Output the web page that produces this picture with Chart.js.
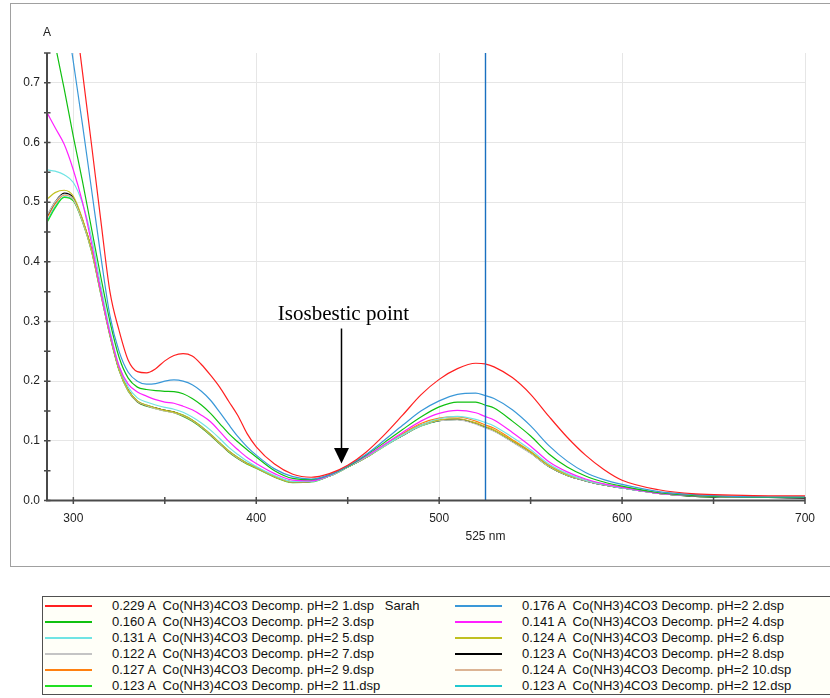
<!DOCTYPE html>
<html>
<head>
<meta charset="utf-8">
<script src="https://cdn.jsdelivr.net/npm/chart.js@4/dist/chart.umd.min.js"></script>
<style>
  html, body { margin: 0; padding: 0; background: #fff; }
  body { width: 830px; height: 698px; overflow: hidden; position: relative; font-family: "Liberation Sans", Arial, sans-serif; }
  #frame { position: absolute; left: 10px; top: 3px; width: 830px; height: 564px; border: 1px solid #a0a0a0; box-sizing: border-box; }
  #spectra { position: absolute; left: 0; top: 0; }
  #legend { position: absolute; left: 42px; top: 596px; width: 820px; height: 99px; border: 1px solid #505050; background: #fffff8; box-sizing: border-box; }
  .swatch { position: absolute; height: 2px; width: 47px; }
  .entry { position: absolute; font-size: 13px; line-height: 16px; white-space: pre; color: #111; }
</style>
</head>
<body>
<div id="frame"></div>
<canvas id="spectra" width="830" height="570"></canvas>
<div id="legend"></div>
<script>
// wavelength grid (nm)
const wavelengths = [286, 290, 295, 300, 305, 310, 315, 320, 325, 330,
  335, 340, 345, 350, 355, 360, 365, 370, 375, 380,
  385, 390, 395, 400, 410, 420, 430, 440, 450, 460,
  470, 480, 490, 500, 510, 520, 525, 530, 540, 550,
  560, 570, 580, 590, 600, 620, 640, 660, 680, 700]

// absorbance of each scan
const scan1 = [1.18, 1.08, 0.96, 0.84, 0.718, 0.595, 0.47, 0.35, 0.285, 0.235,
  0.216, 0.214, 0.221, 0.234, 0.243, 0.246, 0.242, 0.228, 0.21, 0.19,
  0.166, 0.142, 0.112, 0.09, 0.061, 0.044, 0.039, 0.045, 0.059, 0.081,
  0.11, 0.143, 0.177, 0.203, 0.221, 0.23, 0.229, 0.224, 0.206, 0.178,
  0.141, 0.106, 0.076, 0.052, 0.034, 0.018, 0.011, 0.009, 0.008, 0.008]
const scan2 = [1.03, 0.95, 0.84, 0.735, 0.63, 0.52, 0.41, 0.31, 0.25, 0.215,
  0.2, 0.195, 0.196, 0.2, 0.202, 0.2, 0.194, 0.183, 0.168, 0.148,
  0.127, 0.107, 0.09, 0.076, 0.053, 0.04, 0.036, 0.043, 0.058, 0.077,
  0.101, 0.126, 0.15, 0.167, 0.178, 0.18, 0.176, 0.171, 0.152, 0.125,
  0.092, 0.066, 0.047, 0.035, 0.027, 0.015, 0.01, 0.007, 0.006, 0.006]
const scan3 = [0.83, 0.765, 0.69, 0.61, 0.535, 0.455, 0.375, 0.3, 0.24, 0.205,
  0.19, 0.186, 0.184, 0.183, 0.1825, 0.179, 0.171, 0.16, 0.146, 0.129,
  0.112, 0.098, 0.085, 0.073, 0.05, 0.037, 0.035, 0.043, 0.057, 0.076,
  0.097, 0.119, 0.14, 0.157, 0.165, 0.165, 0.160, 0.155, 0.133, 0.108,
  0.078, 0.056, 0.041, 0.031, 0.024, 0.013, 0.008, 0.006, 0.005, 0.005]
const scan4 = [0.648, 0.625, 0.597, 0.554, 0.5, 0.43, 0.35, 0.28, 0.225, 0.195,
  0.182, 0.175, 0.169, 0.165, 0.163, 0.158, 0.152, 0.143, 0.132, 0.116,
  0.099, 0.085, 0.072, 0.062, 0.045, 0.034, 0.033, 0.042, 0.057, 0.074,
  0.094, 0.114, 0.133, 0.146, 0.151, 0.147, 0.141, 0.135, 0.114, 0.091,
  0.065, 0.048, 0.036, 0.028, 0.022, 0.012, 0.008, 0.006, 0.005, 0.005]
const scan5 = [0.554, 0.552, 0.546, 0.533, 0.498, 0.44, 0.36, 0.285, 0.225, 0.19,
  0.172, 0.165, 0.16, 0.156, 0.153, 0.148, 0.14, 0.13, 0.118, 0.104,
  0.089, 0.077, 0.066, 0.057, 0.042, 0.032, 0.032, 0.041, 0.056, 0.073,
  0.092, 0.11, 0.126, 0.137, 0.141, 0.136, 0.131, 0.125, 0.106, 0.085,
  0.061, 0.045, 0.034, 0.027, 0.021, 0.012, 0.008, 0.006, 0.005, 0.005]
const scan6 = [0.506, 0.516, 0.52, 0.51, 0.472, 0.42, 0.348, 0.278, 0.22, 0.185,
  0.167, 0.16, 0.155, 0.151, 0.148, 0.143, 0.135, 0.124, 0.111, 0.097,
  0.083, 0.072, 0.062, 0.055, 0.04, 0.031, 0.032, 0.041, 0.056, 0.072,
  0.092, 0.11, 0.126, 0.135, 0.137, 0.13, 0.124, 0.118, 0.1, 0.081,
  0.058, 0.043, 0.034, 0.027, 0.022, 0.012, 0.008, 0.006, 0.005, 0.005]
const scan7 = [0.48, 0.5, 0.513, 0.505, 0.468, 0.418, 0.347, 0.277, 0.219, 0.184,
  0.166, 0.159, 0.154, 0.15, 0.147, 0.142, 0.134, 0.123, 0.11, 0.096,
  0.082, 0.071, 0.062, 0.055, 0.04, 0.031, 0.032, 0.041, 0.056, 0.072,
  0.091, 0.109, 0.125, 0.134, 0.135, 0.128, 0.122, 0.116, 0.098, 0.079,
  0.057, 0.042, 0.033, 0.026, 0.021, 0.012, 0.008, 0.006, 0.005, 0.005]
const scan8 = [0.479, 0.5, 0.515, 0.507, 0.47, 0.42, 0.35, 0.279, 0.22, 0.185,
  0.166, 0.159, 0.155, 0.151, 0.148, 0.142, 0.134, 0.123, 0.11, 0.096,
  0.082, 0.071, 0.062, 0.055, 0.04, 0.031, 0.032, 0.041, 0.056, 0.072,
  0.092, 0.109, 0.126, 0.134, 0.136, 0.129, 0.123, 0.117, 0.099, 0.08,
  0.057, 0.042, 0.033, 0.026, 0.021, 0.012, 0.007, 0.006, 0.005, 0.004]
const scan9 = [0.476, 0.497, 0.512, 0.505, 0.469, 0.419, 0.349, 0.278, 0.22, 0.185,
  0.166, 0.159, 0.155, 0.151, 0.148, 0.142, 0.134, 0.123, 0.11, 0.096,
  0.082, 0.071, 0.062, 0.055, 0.04, 0.031, 0.032, 0.041, 0.056, 0.073,
  0.093, 0.112, 0.129, 0.138, 0.14, 0.133, 0.127, 0.121, 0.102, 0.082,
  0.059, 0.044, 0.034, 0.027, 0.022, 0.012, 0.008, 0.007, 0.006, 0.006]
const scan10 = [0.477, 0.498, 0.513, 0.505, 0.469, 0.419, 0.348, 0.278, 0.22, 0.184,
  0.166, 0.159, 0.154, 0.15, 0.147, 0.142, 0.134, 0.123, 0.11, 0.096,
  0.082, 0.071, 0.062, 0.055, 0.04, 0.031, 0.032, 0.041, 0.056, 0.072,
  0.092, 0.11, 0.126, 0.135, 0.137, 0.13, 0.124, 0.118, 0.1, 0.08,
  0.058, 0.043, 0.033, 0.026, 0.021, 0.012, 0.008, 0.006, 0.005, 0.005]
const scan11 = [0.468, 0.49, 0.508, 0.502, 0.467, 0.417, 0.346, 0.276, 0.218, 0.183,
  0.165, 0.158, 0.154, 0.15, 0.147, 0.141, 0.133, 0.122, 0.109, 0.095,
  0.081, 0.07, 0.061, 0.054, 0.039, 0.03, 0.031, 0.041, 0.056, 0.072,
  0.091, 0.109, 0.125, 0.134, 0.136, 0.129, 0.123, 0.117, 0.099, 0.08,
  0.057, 0.042, 0.033, 0.026, 0.021, 0.012, 0.007, 0.006, 0.005, 0.005]
const scan12 = [0.47, 0.492, 0.509, 0.503, 0.468, 0.418, 0.347, 0.277, 0.219, 0.184,
  0.166, 0.16, 0.155, 0.151, 0.148, 0.143, 0.135, 0.124, 0.111, 0.097,
  0.083, 0.072, 0.063, 0.056, 0.041, 0.031, 0.032, 0.041, 0.056, 0.072,
  0.091, 0.109, 0.125, 0.134, 0.136, 0.129, 0.123, 0.117, 0.099, 0.08,
  0.057, 0.043, 0.033, 0.026, 0.021, 0.012, 0.008, 0.006, 0.005, 0.005]

const scans = [scan1, scan2, scan3, scan4, scan5, scan6, scan7, scan8, scan9, scan10, scan11, scan12]
const scanNames = [1, 2, 3, 4, 5, 6, 7, 8, 9, 10, 11, 12].map(n => `Co(NH3)4CO3 Decomp. pH=2 ${n}.dsp`)
const scanColors = ['#ff2020', '#3a98d8', '#10c010', '#ff20ff', '#70e4e4', '#c0c020',
  '#c4c4c4', '#000000', '#ff8010', '#dcb494', '#20e020', '#20c8d0']

const cursorNm = 525
const yTicks = [0, 0.1, 0.2, 0.3, 0.4, 0.5, 0.6, 0.7]
const xTicks = [300, 400, 500, 600, 700]
const arrowAt = { x: 446.6, y: 0.062 }

const ctx = document.getElementById('spectra')

// axes, tick marks, cursor line and the arrow note
const overlay = {
  id: 'overlay',
  afterDraw(chart) {
    const c = chart.ctx
    const xs = chart.scales.x, ys = chart.scales.y
    const area = chart.chartArea
    c.save()

    // cursor
    const cx = Math.round(xs.getPixelForValue(cursorNm)) + 0.5
    c.strokeStyle = '#1a70c0'
    c.lineWidth = 1.4
    c.beginPath()
    c.moveTo(cx, area.top)
    c.lineTo(cx, area.bottom)
    c.stroke()

    // axis lines
    c.strokeStyle = '#4a4a4a'
    c.lineWidth = 2
    c.beginPath()
    c.moveTo(area.left, area.top)
    c.lineTo(area.left, area.bottom)
    c.lineTo(area.right, area.bottom)
    c.stroke()

    c.lineWidth = 1.5
    c.beginPath()
    for (let v = 0; v <= 0.7501; v += 0.05) {
      const y = ys.getPixelForValue(v)
      c.moveTo(area.left - 3, y)
      c.lineTo(area.left + 3.5, y)
    }
    for (let v = 300; v <= 700; v += 50) {
      const x = xs.getPixelForValue(v)
      c.moveTo(x, area.bottom - 3.5)
      c.lineTo(x, area.bottom + 3.5)
    }
    c.stroke()

    // axis captions
    c.fillStyle = '#222'
    c.font = '12px "Liberation Sans", Arial, sans-serif'
    c.textAlign = 'center'
    c.textBaseline = 'middle'
    c.fillText('A', area.left, 33)
    c.fillText(cursorNm + ' nm', cx, 537)

    // isosbestic arrow
    const ax = xs.getPixelForValue(arrowAt.x)
    const ay = ys.getPixelForValue(arrowAt.y)
    c.strokeStyle = '#000'
    c.fillStyle = '#000'
    c.lineWidth = 1.5
    c.beginPath()
    c.moveTo(ax, ay - 135)
    c.lineTo(ax, ay - 14)
    c.stroke()
    c.beginPath()
    c.moveTo(ax - 7.5, ay - 15.5)
    c.lineTo(ax + 7.5, ay - 15.5)
    c.lineTo(ax, ay)
    c.closePath()
    c.fill()
    c.font = '21px "Liberation Serif", "Times New Roman", serif'
    c.textBaseline = 'alphabetic'
    c.fillText('Isosbestic point', ax + 2, ay - 144)
    c.restore()
  }
}

const chart = new Chart(ctx, {
  type: 'line',
  data: {
    datasets: scans.map((s, i) => ({
      label: scanNames[i],
      data: wavelengths.map((w, j) => ({ x: w, y: s[j] })),
      borderColor: scanColors[i],
      borderWidth: 1.2,
      pointRadius: 0,
      cubicInterpolationMode: 'monotone',
      fill: false
    }))
  },
  options: {
    responsive: false,
    animation: false,
    events: [],
    layout: { padding: { left: 0, top: 53, right: 25, bottom: 0 } },
    plugins: { legend: { display: false }, tooltip: { enabled: false } },
    scales: {
      x: {
        type: 'linear',
        min: 285.6,
        max: 700,
        afterBuildTicks: s => { s.ticks = xTicks.map(v => ({ value: v })) },
        afterFit: s => { s.height = 69.5 },
        grid: { color: '#e6e6e6', lineWidth: 1, drawTicks: false },
        border: { display: false },
        ticks: { color: '#222', padding: 11, maxRotation: 0, font: { family: 'Liberation Sans', size: 12 } }
      },
      y: {
        min: 0,
        max: 0.75,
        afterBuildTicks: s => { s.ticks = yTicks.map(v => ({ value: v })) },
        afterFit: s => { s.width = 47 },
        grid: { color: '#e6e6e6', lineWidth: 1, drawTicks: false },
        border: { display: false },
        ticks: { color: '#222', padding: 7, font: { family: 'Liberation Sans', size: 12 },
          callback: v => v.toFixed(1) }
      }
    }
  },
  plugins: [overlay]
})

// legend: readings at the cursor wavelength, odd scans left, even scans right
const legend = document.getElementById('legend')
const at = wavelengths.indexOf(cursorNm)
scans.forEach((s, i) => {
  const row = Math.floor(i / 2), col = i % 2
  const top = 605.5 + row * 16
  const sw = document.createElement('div')
  sw.className = 'swatch'
  sw.style.background = scanColors[i]
  sw.style.left = (col ? 455 : 45) + 'px'
  sw.style.top = (top - 1) + 'px'
  document.body.appendChild(sw)
  const t = document.createElement('div')
  t.className = 'entry'
  t.style.left = (col ? 522 : 112) + 'px'
  t.style.top = (top - 8) + 'px'
  t.textContent = s[at].toFixed(3) + ' A  ' + scanNames[i] + (i === 0 ? '   Sarah' : '')
  document.body.appendChild(t)
})
</script>
</body>
</html>
